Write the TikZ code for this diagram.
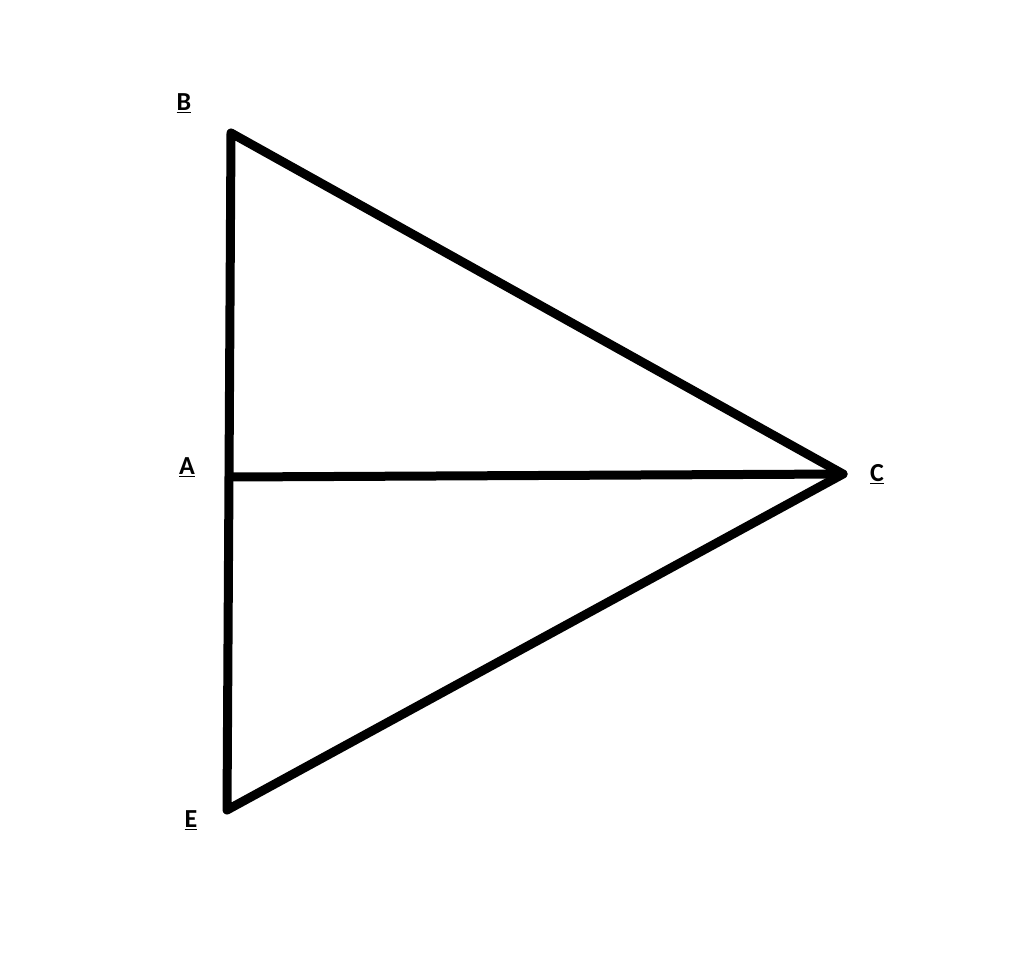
\documentclass[tikz,border=0pt]{standalone}
\usepackage{fontspec}
\setmainfont{Carlito}
\begin{document}
\begin{tikzpicture}[x=1pt,y=-1pt,
  edge/.style={line width=9pt,line join=round,line cap=round},
  lbl/.style={font=\fontsize{26}{28}\selectfont\bfseries}]
\useasboundingbox (0,0) rectangle (1024,970);
\coordinate (B) at (231,133);
\coordinate (A) at (229,477);
\coordinate (E) at (227,810);
\coordinate (C) at (843,474);
\draw[edge] (B) -- (A) -- (E) -- (C) -- cycle;
\draw[edge] (A) -- (C);
\node[lbl] (lB) at (184,103) {\underline{B}};
\node[lbl] (lA) at (187,467) {\underline{A}};
\node[lbl] (lC) at (877,474) {\underline{C}};
\node[lbl] (lE) at (191,820) {\underline{E}};
\end{tikzpicture}
\end{document}
